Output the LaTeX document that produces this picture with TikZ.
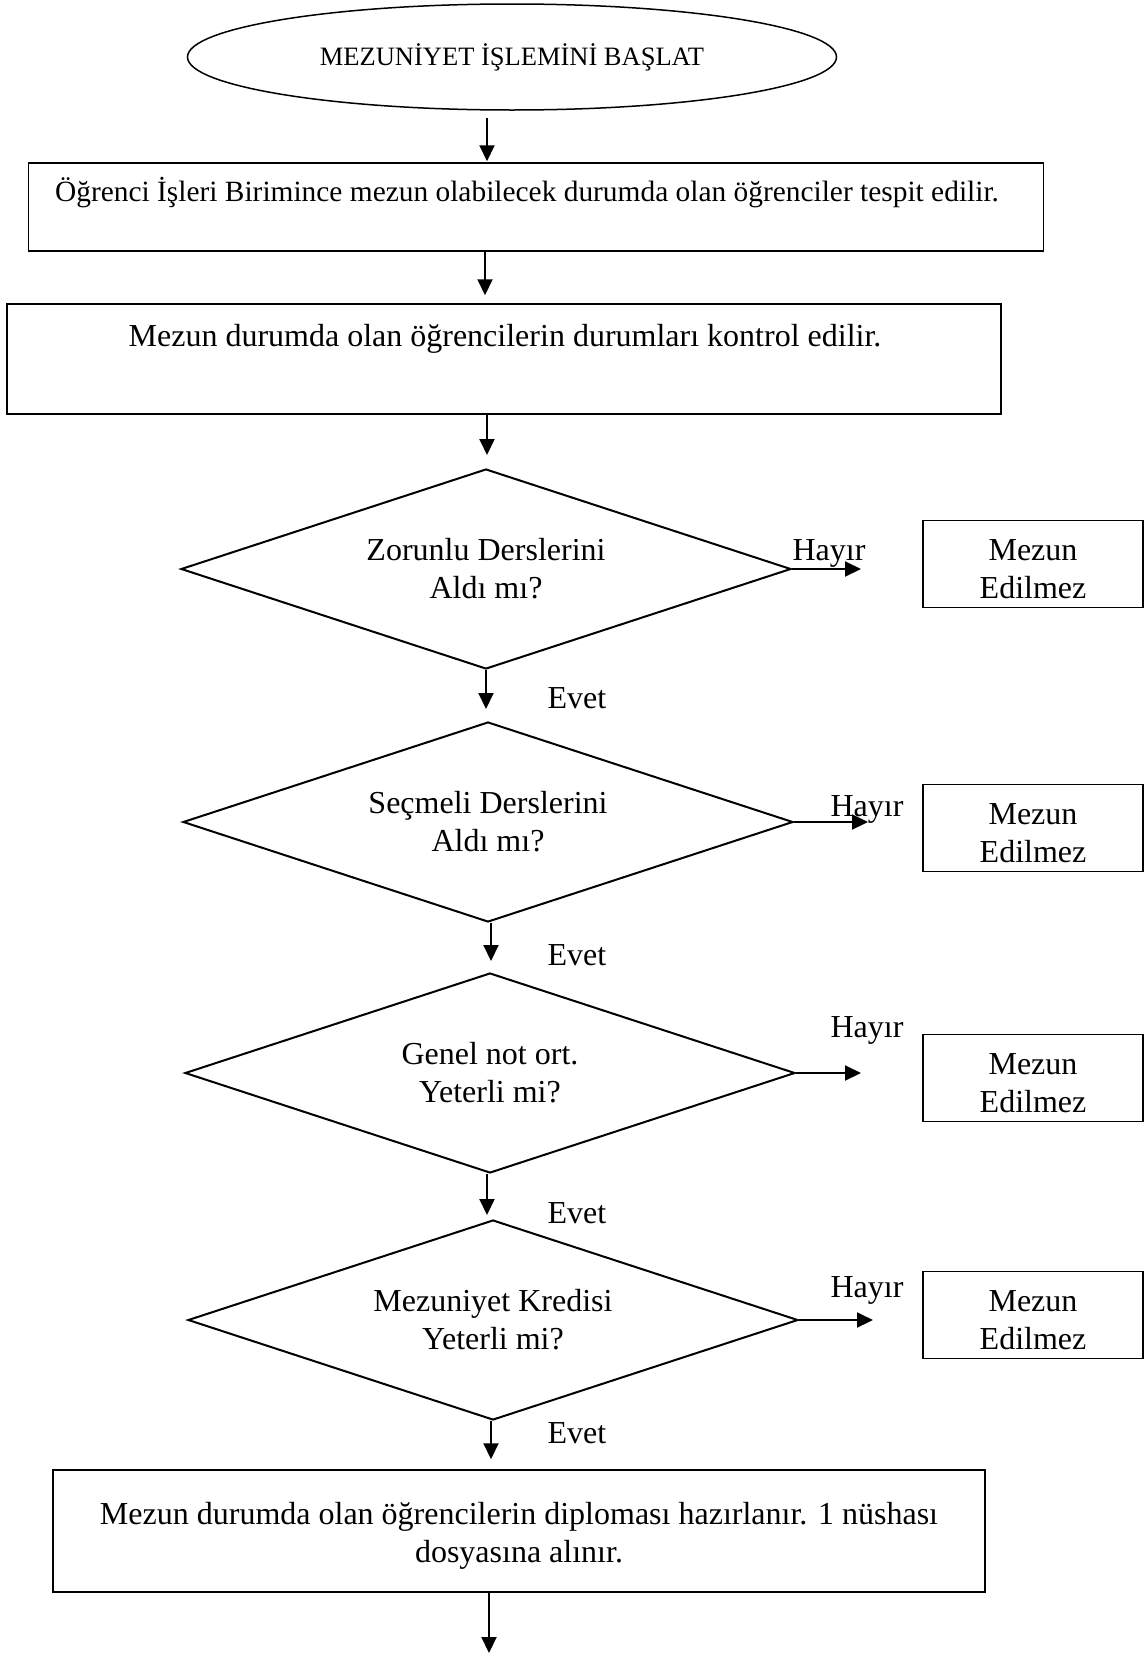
\documentclass[tikz,border=0pt]{standalone}
\usepackage{fontspec}
\setmainfont{Liberation Serif}
\usetikzlibrary{shapes.geometric,arrows.meta}

\begin{document}
\begin{tikzpicture}[x=1pt,y=-1pt,
  every node/.style={font=\fontsize{32}{38}\selectfont},
  flow/.style={line width=2pt,-{Triangle[length=16pt,width=15pt]}},
  procbox/.style={draw,line width=1.5pt,rectangle,inner sep=0},
  decision/.style={draw,line width=2pt,diamond,aspect=3.05,inner sep=0,align=center,
                   minimum width=610pt,minimum height=200pt},
  endbox/.style={draw,line width=1.3pt,rectangle,
                 minimum width=220pt,minimum height=87pt,inner sep=0},
  lbl/.style={inner sep=0,align=center}]
\useasboundingbox (0,0) rectangle (1145,1657);

% start terminal
\node[draw,ellipse,line width=1.5pt,minimum width=649pt,minimum height=106pt,
      inner sep=0,font=\fontsize{26.5}{30}\selectfont] (start) at (512,57)
      {MEZUNİYET İŞLEMİNİ BAŞLAT};

% process boxes
\node[procbox,minimum width=1015pt,minimum height=88pt] (box1) at (536,207) {};
\node[lbl,font=\fontsize{29.4}{36}\selectfont] (t1) at (527,193)
  {Öğrenci İşleri Birimince mezun olabilecek durumda olan öğrenciler tespit edilir.};

\node[procbox,minimum width=994pt,minimum height=110pt] (box2) at (504,359) {};
\node[lbl] (t2) at (505,339)
  {Mezun durumda olan öğrencilerin durumları kontrol edilir.};

% decisions
\node[decision] (d1) at (486,569) {Zorunlu Derslerini\\Aldı mı?};
\node[decision] (d2) at (488,822) {Seçmeli Derslerini\\Aldı mı?};
\node[decision] (d3) at (490,1073) {Genel not ort.\\Yeterli mi?};
\node[decision] (d4) at (493,1320) {Mezuniyet Kredisi\\Yeterli mi?};

% rejection boxes
\node[endbox] (n1) at (1033,564) {};
\node[endbox] (n2) at (1033,828) {};
\node[endbox] (n3) at (1033,1078) {};
\node[endbox] (n4) at (1033,1315) {};
\node[lbl] (n1t) at (1033,569) {Mezun\\Edilmez};
\node[lbl] (n2t) at (1033,833) {Mezun\\Edilmez};
\node[lbl] (n3t) at (1033,1083) {Mezun\\Edilmez};
\node[lbl] (n4t) at (1033,1320) {Mezun\\Edilmez};

% final box
\node[procbox,minimum width=932pt,minimum height=122pt] (box5) at (519,1531) {};
\node[lbl] (t5) at (519,1536)
  {Mezun durumda olan öğrencilerin diploması hazırlanır. 1 nüshası\\dosyasına alınır.};

% spine reference points
\coordinate (x1) at (487,0);
\coordinate (x2) at (485,0);
\coordinate (x8) at (489,0);
\coordinate (e1) at (861,569);
\coordinate (e2) at (868,822);
\coordinate (e3) at (861,1073);
\coordinate (e4) at (873,1320);
\coordinate (endpt) at (489,1653);

% main flow
\draw[flow,shorten <=7pt,shorten >=1pt] (start.south -| x1) -- (box1.north -| x1);
\draw[flow,shorten >=8pt] (box1.south -| x2) -- (box2.north -| x2);
\draw[flow,shorten >=13pt] (box2.south -| x1) -- (d1.north -| x1);
\draw[flow,shorten >=12pt] (d1.south) -- (d1.south |- d2.north);
\draw[flow,shorten >=11pt] (d2.south) ++(3,0) coordinate (d2b) -- (d2b |- d3.north);
\draw[flow,shorten >=4pt] (d3.south) ++(-3,0) coordinate (d3b) -- (d3b |- d4.north);
\draw[flow,shorten >=10pt] (d4.south) ++(-2,0) coordinate (d4b) -- (d4b |- box5.north);
\draw[flow] (box5.south -| x8) -- (endpt);

% rejection branches
\draw[flow] (d1.east) -- (e1);
\draw[flow] (d2.east) -- (e2);
\draw[flow] (d3.east) -- (e3);
\draw[flow] (d4.east) -- (e4);

% branch labels
\node[lbl] (h1) at (829,553) {Hayır};
\node[lbl] (h2) at (867,809) {Hayır};
\node[lbl] (h3) at (867,1030) {Hayır};
\node[lbl] (h4) at (867,1290) {Hayır};
\node[lbl] (v1) at (577,698) {Evet};
\node[lbl] (v2) at (577,955) {Evet};
\node[lbl] (v3) at (577,1213) {Evet};
\node[lbl] (v4) at (577,1433) {Evet};
\end{tikzpicture}
\end{document}
